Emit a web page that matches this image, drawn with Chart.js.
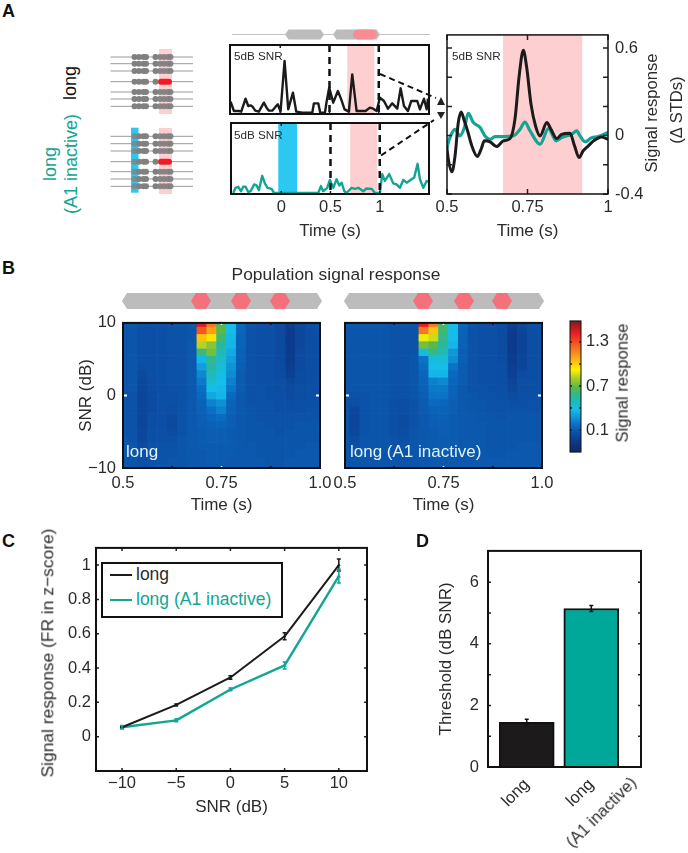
<!DOCTYPE html>
<html>
<head>
<meta charset="utf-8">
<style>
  body { margin: 0; background: #fff; width: 688px; height: 853px; overflow: hidden; position: relative; font-family: "Liberation Sans", Arial, sans-serif; color: #2b2b2b; }
  canvas { position: absolute; }
  .note { position: absolute; white-space: nowrap; line-height: 1; }
  svg { position: absolute; left: 0; top: 0; }
</style>
<script src="https://cdn.jsdelivr.net/npm/chart.js@4"></script>
</head>
<body>
<script>
// panel A, 5dB SNR single trial traces
const trialLongT = [-.504,-.470,-.420,-.396,-.352,-.325,-.301,-.281,-.254,-.217,-.166,-.139,-.115,-.081,-.047,-.024,.003,.044,.081,.129,.163,.223,.325,.342,.386,.406,.454,.470,.497,.538,.585,.619,.653,.697,.731,.775,.866,.910,.944,.978,1.012,1.053,1.093,1.137,1.188,1.222,1.256,1.296,1.330,1.391,1.418,1.459,1.486,1.499];
const trialLongV = [.33,.05,.05,.03,.42,.20,.22,.18,.06,.03,.30,.15,.06,.06,.18,.25,.03,1.55,.10,.60,.03,0,0,.28,.28,0,0,.32,.75,.30,.65,.40,.10,.03,1.15,.05,.05,.15,.12,.05,.45,.35,.12,.28,.12,.73,.20,.05,.35,.35,.10,.42,.10,.42];
const trialInactT = [-.487,-.464,-.436,-.409,-.386,-.362,-.335,-.311,-.274,-.250,-.227,-.193,-.166,-.139,-.098,-.074,.376,.403,.426,.467,.494,.528,.562,.589,.613,.640,.663,.714,.748,.782,.833,.866,.917,.951,1.002,1.025,1.052,1.096,1.137,1.171,1.205,1.239,1.273,1.323,1.350,1.384,1.408,1.442,1.476,1.499];
const trialInactV = [0,.15,.18,.05,.18,.18,.03,.05,.25,.22,.08,.50,.28,.15,.12,0,0,.20,.05,.15,.38,.15,.40,.22,.30,.05,0,.15,.12,.15,.05,.13,.12,0,0,.55,.35,.55,.28,.25,.15,.38,.30,.40,.45,.85,.40,.15,.35,.32];

// panel A, zoomed average traces
const avgLongT = [.499,.504,.515,.525,.535,.544,.554,.564,.577,.594,.606,.616,.634,.654,.675,.696,.711,.724,.737,.747,.761,.775,.789,.810,.823,.841,.856,.882,.896,.910,.923,.939,.955,.980,1];
const avgLongV = [-.070,-.161,-.248,-.139,.089,.161,.100,.032,-.070,-.143,-.093,-.036,-.043,-.075,-.036,-.020,.111,.407,.584,.475,.214,.066,-.002,.089,.043,-.020,.009,.016,-.070,-.150,-.104,-.070,-.036,-.009,-.025];
const avgInactT = [.497,.509,.525,.540,.554,.566,.582,.603,.618,.634,.649,.675,.706,.727,.742,.758,.789,.815,.839,.856,.887,.903,.913,.929,.949,.970,1];
const avgInactV = [-.104,-.014,.043,-.002,.055,.152,.089,.055,-.002,-.025,-.007,-.007,-.002,.043,.093,.032,-.059,.048,-.036,-.014,.009,.032,-.002,-.043,-.014,-.007,.021];

// panel B, heat maps: rows from 10 dB down to -10 dB, columns from 0.5 s to 1.0 s
const heatSnr = [10,9,8,7,6,5,4,3,2,1,0,-1,-2,-3,-4,-5,-6,-7,-8,-9,-10];
const heatTime = [.5,.525,.55,.575,.6,.625,.65,.675,.7,.725,.75,.775,.8,.825,.85,.875,.9,.925,.95,.975,1];
const heatLong = [
  [.08,.08,.06,.06,.06,.07,.07,.08,1.45,1.2,.65,.38,.14,.07,.06,.06,.03,-.04,.02,.05,.06],
  [.08,.08,.06,.06,.06,.07,.07,.08,1.28,1.1,.68,.38,.14,.07,.06,.06,.03,-.05,.02,.05,.06],
  [.08,.08,.06,.06,.06,.07,.07,.08,1.03,.95,.62,.37,.13,.07,.06,.06,.03,-.05,.02,.05,.06],
  [.08,.08,.06,.06,.06,.07,.07,.09,.82,.75,.55,.36,.13,.07,.06,.06,.03,-.05,.02,.05,.06],
  [.08,.08,.06,.06,.06,.07,.07,.09,.6,.72,.5,.33,.12,.07,.06,.06,.03,-.05,.03,.05,.06],
  [.08,.08,.06,.06,.06,.07,.07,.09,.36,.58,.45,.3,.12,.07,.06,.06,.03,-.04,.03,.05,.06],
  [.08,.08,.05,.06,.06,.07,.07,.09,.3,.55,.42,.27,.11,.07,.06,.06,.04,-.03,.03,.05,.06],
  [.08,.08,.03,.06,.06,.07,.07,.09,.24,.48,.4,.25,.1,.07,.06,.06,.04,-.02,.04,.05,.06],
  [.08,.08,.02,.05,.06,.07,.07,.09,.2,.45,.38,.22,.1,.07,.06,.06,.05,.02,.04,.05,.06],
  [.08,.08,.02,.05,.06,.07,.07,.09,.17,.38,.37,.19,.1,.07,.07,.06,.05,.03,.05,.06,.06],
  [.08,.07,.01,.04,.06,.06,.07,.09,.15,.32,.36,.15,.09,.07,.07,.06,.06,.04,.05,.06,.06],
  [.08,.07,.01,.04,.06,.06,.07,.09,.13,.22,.26,.13,.09,.07,.07,.07,.06,.05,.06,.06,.07],
  [.08,.07,.01,.04,.06,.05,.07,.09,.12,.17,.22,.12,.09,.08,.07,.07,.06,.06,.06,.07,.07],
  [.08,.07,.01,.05,.05,.03,.07,.09,.11,.14,.16,.11,.09,.08,.07,.07,.07,.07,.07,.07,.07],
  [.08,.07,.01,.05,.05,.03,.07,.09,.11,.12,.13,.11,.09,.08,.08,.07,.07,.07,.08,.08,.08],
  [.08,.07,.02,.06,.06,.04,.07,.09,.1,.11,.11,.1,.09,.08,.08,.08,.07,.08,.08,.08,.08],
  [.09,.07,.02,.06,.06,.06,.08,.09,.1,.11,.11,.1,.09,.08,.08,.08,.08,.08,.08,.08,.08],
  [.09,.08,.03,.07,.07,.07,.08,.09,.1,.1,.1,.1,.09,.09,.08,.08,.08,.08,.08,.09,.09],
  [.09,.08,.05,.07,.07,.07,.08,.09,.09,.1,.1,.1,.09,.09,.08,.08,.08,.08,.09,.09,.09],
  [.09,.08,.06,.07,.07,.08,.08,.09,.09,.1,.1,.09,.09,.09,.09,.08,.08,.09,.09,.09,.09],
  [.09,.08,.06,.07,.08,.08,.08,.09,.09,.09,.09,.09,.09,.09,.09,.08,.08,.09,.09,.09,.09]
];
const heatInact = [
  [.08,.08,.08,.08,.08,.07,.07,.07,1.42,1.2,.62,.38,.13,.07,.06,.06,.04,-.03,.01,.05,.06],
  [.08,.08,.08,.08,.08,.07,.07,.07,1.2,1.02,.62,.38,.13,.07,.06,.06,.04,-.04,.01,.05,.06],
  [.08,.08,.08,.08,.08,.07,.07,.07,.9,.85,.58,.38,.12,.07,.06,.06,.04,-.05,.0,.05,.06],
  [.08,.08,.08,.08,.08,.07,.07,.07,.72,.68,.55,.36,.12,.07,.06,.06,.04,-.05,.0,.05,.06],
  [.08,.08,.08,.08,.08,.07,.07,.07,.42,.58,.5,.28,.11,.07,.06,.06,.04,-.05,.0,.05,.06],
  [.08,.08,.08,.08,.08,.07,.07,.08,.18,.42,.42,.25,.11,.07,.06,.06,.04,-.04,.01,.05,.06],
  [.08,.08,.08,.08,.08,.07,.07,.08,.16,.38,.38,.18,.1,.07,.06,.06,.05,-.03,.01,.05,.06],
  [.08,.08,.08,.08,.08,.07,.07,.08,.14,.36,.36,.15,.1,.07,.06,.06,.05,-.02,.04,.05,.06],
  [.08,.08,.08,.08,.08,.07,.07,.08,.13,.22,.24,.14,.1,.07,.06,.06,.05,.0,.05,.06,.06],
  [.08,.08,.08,.08,.08,.07,.07,.08,.12,.2,.2,.13,.09,.07,.07,.06,.06,.02,.05,.06,.06],
  [.08,.07,.07,.08,.08,.07,.07,.08,.11,.18,.18,.12,.09,.08,.07,.07,.06,.04,.06,.06,.07],
  [.08,.05,.07,.08,.08,.06,.05,.07,.1,.15,.14,.11,.09,.08,.08,.07,.07,.06,.06,.07,.07],
  [.08,.02,.07,.08,.08,.06,.05,.07,.1,.12,.13,.11,.09,.08,.08,.07,.07,.07,.07,.07,.07],
  [.08,.01,.07,.08,.08,.06,.04,.07,.09,.11,.12,.1,.09,.09,.08,.08,.07,.08,.08,.08,.08],
  [.08,.01,.07,.08,.08,.06,.04,.07,.09,.11,.11,.1,.09,.09,.09,.08,.08,.08,.08,.08,.08],
  [.08,.02,.07,.08,.08,.06,.05,.08,.09,.1,.11,.1,.09,.09,.09,.08,.08,.08,.08,.08,.08],
  [.08,.04,.08,.08,.08,.07,.06,.08,.09,.1,.1,.1,.09,.09,.09,.08,.08,.08,.08,.08,.08],
  [.08,.06,.08,.08,.08,.07,.07,.08,.09,.1,.1,.1,.09,.09,.09,.08,.08,.08,.09,.09,.09],
  [.08,.07,.08,.08,.08,.08,.07,.08,.09,.09,.1,.09,.09,.09,.09,.08,.08,.09,.09,.09,.09],
  [.08,.08,.08,.08,.08,.08,.08,.08,.09,.09,.09,.09,.09,.09,.09,.09,.09,.09,.09,.09,.09],
  [.08,.08,.08,.08,.08,.08,.08,.08,.09,.09,.09,.09,.09,.09,.09,.09,.09,.09,.09,.09,.09]
];
const heatStops = [[-.2,'#14275f'],[-.05,'#0c3a8c'],[.07,'#0b52a8'],[.17,'#0a6fc4'],[.38,'#14bdea'],[.55,'#26b8a0'],[.68,'#58b84a'],[.8,'#a8cc2a'],[.92,'#fff200'],[1.13,'#f7941d'],[1.42,'#ed1c24'],[1.586,'#7a1a1a']];

// panel C
const snrLevels = [-10,-5,0,5,10];
const curveLong = [.055,.185,.345,.585,1.0];
const curveLongErr = [.005,.006,.01,.02,.035];
const curveInact = [.055,.095,.275,.415,.935];
const curveInactErr = [.01,.008,.008,.02,.04];

// panel D
const thresholdPos = [1,2];
const thresholdNames = ['long','long'];
const thresholds = [1.45,5.15];
const thresholdErr = [.1,.1];

const BLACK = '#1c1a1a', TEAL = '#12a594', PINK = '#fdcfd0', BLUE = '#2bc8f2', INK = '#2b2b2b';
const FONT = '"Liberation Sans", Arial, sans-serif';

// frame, inward ticks, shaded bands, dashed markers and error bars, all placed through the scales
Chart.register({
  id: 'deco',
  beforeDatasetsDraw(chart, args, o) {
    const {ctx, chartArea: a, scales: {x}} = chart;
    (o.bands || []).forEach(b => {
      ctx.fillStyle = b[2];
      ctx.fillRect(x.getPixelForValue(b[0]), a.top, x.getPixelForValue(b[1]) - x.getPixelForValue(b[0]), a.height);
    });
  },
  afterDatasetsDraw(chart, args, o) {
    const {ctx, chartArea: a, scales: {x, y}} = chart;
    ctx.save();
    (o.dashed || []).forEach(v => {
      ctx.strokeStyle = '#111'; ctx.lineWidth = 2.5; ctx.setLineDash([7, 5]);
      ctx.beginPath(); ctx.moveTo(x.getPixelForValue(v), a.top); ctx.lineTo(x.getPixelForValue(v), a.bottom); ctx.stroke();
    });
    ctx.setLineDash([]);
    (o.errors || []).forEach(e => {
      ctx.strokeStyle = e.color; ctx.lineWidth = 1.5;
      e.x.forEach((xv, i) => {
        const px = x.getPixelForValue(xv), hi = y.getPixelForValue(e.y[i] + e.err[i]), lo = y.getPixelForValue(e.y[i] - e.err[i]);
        ctx.beginPath();
        ctx.moveTo(px, hi); ctx.lineTo(px, lo);
        ctx.moveTo(px - 2, hi); ctx.lineTo(px + 2, hi);
        ctx.moveTo(px - 2, lo); ctx.lineTo(px + 2, lo);
        ctx.stroke();
      });
    });
    const color = o.tickColor || (() => '#222');
    const len = o.tickLen === undefined ? 3 : o.tickLen;
    ctx.lineWidth = 1.5;
    if (!o.noXTicks) x.ticks.forEach(t => {
      const p = x.getPixelForValue(t.value);
      ctx.strokeStyle = color('x', t.value);
      ctx.beginPath();
      ctx.moveTo(p, a.top); ctx.lineTo(p, a.top + len);
      ctx.moveTo(p, a.bottom); ctx.lineTo(p, a.bottom - len);
      ctx.stroke();
    });
    y.ticks.forEach(t => {
      const p = y.getPixelForValue(t.value);
      ctx.strokeStyle = color('y', t.value);
      ctx.lineWidth = o.yTickWidth || 1.5;
      ctx.beginPath();
      ctx.moveTo(a.left, p); ctx.lineTo(a.left + (o.yTickLen || len), p);
      ctx.moveTo(a.right, p); ctx.lineTo(a.right - (o.yTickLen || len), p);
      ctx.stroke();
    });
    if (!o.noFrame) {
      ctx.strokeStyle = '#111'; ctx.lineWidth = o.frame || 2;
      ctx.strokeRect(a.left, a.top, a.width, a.height);
    }
    ctx.restore();
  }
});

function axis(min, max, vals, labels, size, pad, title, extra) {
  return Object.assign({
    type: 'linear', min, max, offset: false,
    grid: {display: false, drawTicks: false},
    border: {display: false},
    ticks: {
      autoSkip: false, maxRotation: 0, padding: pad, color: INK,
      font: {family: FONT, size: 16.5},
      callback: (v, i) => labels[i]
    },
    title: title ? {display: true, text: title, color: INK, padding: 0, font: {family: FONT, size: 17}} : {display: false},
    afterBuildTicks: s => { s.ticks = vals.map(v => ({value: v})); },
    afterFit: s => { if (s.isHorizontal()) s.height = size; else s.width = size; }
  }, extra || {});
}

// box = frame left, top, width, height; m = margins left, top, right, bottom around it
function panel(box, m, config) {
  const c = document.createElement('canvas');
  c.width = box[2] + m[0] + m[2];
  c.height = box[3] + m[1] + m[3];
  c.style.left = (box[0] - m[0]) + 'px';
  c.style.top = (box[1] - m[1]) + 'px';
  document.body.appendChild(c);
  const yRight = config.options.scales.y.position === 'right';
  config.options.responsive = false;
  config.options.animation = false;
  config.options.maintainAspectRatio = false;
  config.options.layout = {padding: {left: yRight ? m[0] : 0, top: m[1], right: yRight ? 0 : m[2], bottom: 0}};
  config.options.plugins = Object.assign({legend: {display: false}, tooltip: {enabled: false}}, config.options.plugins);
  return new Chart(c, config);
}

function zipXY(xs, ys) { return xs.map((x, i) => ({x, y: ys[i]})); }

function trace(xs, ys, color, width, extra) {
  return Object.assign({data: zipXY(xs, ys), borderColor: color, borderWidth: width, showLine: true, pointRadius: 0, borderJoinStyle: 'round'}, extra || {});
}

// panel A small traces
const smallTicks = [0, .5, 1], smallLabels = ['0', '0.5', '1'];
panel([230, 45, 199, 69], [20, 14, 20, 20], {
  type: 'scatter',
  data: {datasets: [trace(trialLongT, trialLongV, BLACK, 2.4)]},
  options: {
    scales: {
      x: axis(-.51, 1.51, smallTicks, ['', '', ''], 20, 5),
      y: axis(-.04, 2.03, [], [], 20, 0)
    },
    plugins: {deco: {bands: [[.68, .955, PINK]], dashed: [.5, 1]}}
  }
});
panel([231, 123, 198, 69], [20, 14, 20, 50], {
  type: 'scatter',
  data: {datasets: [trace(trialInactT, trialInactV, TEAL, 2.4)]},
  options: {
    scales: {
      x: axis(-.51, 1.5, smallTicks, smallLabels, 48, 4, 'Time (s)'),
      y: axis(-.03, 2.04, [], [], 20, 0)
    },
    plugins: {deco: {bands: [[.70, .975, PINK], [-.03, .16, BLUE]], dashed: [.5, 1]}}
  }
});

// panel A zoomed average
panel([447, 32, 161, 160], [20, 14, 50, 50], {
  type: 'scatter',
  data: {datasets: [
    trace(avgLongT, avgLongV, BLACK, 3, {cubicInterpolationMode: 'monotone'}),
    trace(avgInactT, avgInactV, TEAL, 3.2, {cubicInterpolationMode: 'monotone'})
  ]},
  options: {
    scales: {
      x: axis(.5, 1, [.5, .75, 1], ['0.5', '0.75', '1'], 48, 4, 'Time (s)'),
      y: axis(-.4, .69, [.6, .4, .2, 0, -.2, -.4], ['0.6', '', '', '0', '', '-0.4'], 50, 7, null, {position: 'right'})
    },
    plugins: {deco: {bands: [[.674, .92, PINK]], frame: 1.5, tickLen: 5}}
  }
});

// panel B
function heatColor(v) {
  for (let i = 1; i < heatStops.length; i++) {
    if (v <= heatStops[i][0]) {
      const [a, ca] = heatStops[i - 1], [b, cb] = heatStops[i];
      const f = Math.max(0, (v - a) / (b - a));
      const ch = (c, k) => parseInt(c.substr(1 + k * 2, 2), 16);
      return 'rgb(' + [0, 1, 2].map(k => Math.round(ch(ca, k) + (ch(cb, k) - ch(ca, k)) * f)).join(',') + ')';
    }
  }
  return heatStops[heatStops.length - 1][1];
}

function heatPanel(box, m, grid, yLabels, yTitle) {
  const datasets = heatSnr.map((snr, r) => ({
    data: heatTime.map(t => ({x: t, y: [snr - .5, snr + .5]})),
    backgroundColor: grid[r].map(heatColor),
    borderWidth: 0,
    barPercentage: 1,
    categoryPercentage: 1
  }));
  panel(box, m, {
    type: 'bar',
    data: {datasets},
    options: {
      scales: {
        x: axis(.5, 1, [.5, .625, .75, .875, 1], ['0.5', '', '0.75', '', '1.0'], 48, 6, 'Time (s)', {stacked: true}),
        y: axis(-10, 10, [10, 0, -10], yLabels, m[0], 7, yTitle, {stacked: false})
      },
      plugins: {deco: {
        tickLen: 2,
        yTickLen: 4,
        yTickWidth: 2,
        tickColor: (ax, v) => (ax === 'y' && v === 0) || (ax === 'x' && v === .75) ? '#fff' : '#111'
      }}
    }
  });
}
heatPanel([123, 320, 197, 146], [47, 14, 20, 50], heatLong, ['10', '0', '−10'], 'SNR (dB)');
heatPanel([345, 320, 197, 146], [20, 14, 20, 50], heatInact, ['', '', ''], null);

// colour bar
panel([570, 320, 11, 133], [6, 14, 36, 14], {
  type: 'bar',
  data: {labels: [''], datasets: [{
    data: [[-.2, 1.586]],
    barPercentage: 1,
    categoryPercentage: 1,
    borderWidth: 0,
    backgroundColor: ctx => {
      const {chart} = ctx;
      if (!chart.chartArea) return '#000';
      const yS = chart.scales.y;
      const g = chart.ctx.createLinearGradient(0, yS.getPixelForValue(-.2), 0, yS.getPixelForValue(1.586));
      heatStops.forEach(s => g.addColorStop((s[0] + .2) / 1.786, s[1]));
      return g;
    }
  }]},
  options: {
    scales: {
      x: {type: 'category', display: false, offset: true, grid: {display: false}},
      y: axis(-.2, 1.586, [.1, .4, .7, 1, 1.3], ['0.1', '', '0.7', '', '1.3'], 36, 5, null, {position: 'right'})
    },
    plugins: {deco: {noXTicks: true, frame: 1, tickLen: 2}}
  }
});

// panel C
panel([97, 547, 270, 221], [60, 14, 20, 50], {
  type: 'scatter',
  data: {datasets: [
    trace(snrLevels, curveLong, BLACK, 2, {pointRadius: 2, pointStyle: 'triangle', pointBackgroundColor: BLACK, pointBorderWidth: 0}),
    trace(snrLevels, curveInact, TEAL, 2.4, {pointRadius: 2.5, pointStyle: 'triangle', pointBackgroundColor: TEAL, pointBorderWidth: 0})
  ]},
  options: {
    scales: {
      x: axis(-12.4, 12.6, snrLevels, ['−10', '−5', '0', '5', '10'], 47, 3, 'SNR (dB)'),
      y: axis(-.2, 1.1, [0, .2, .4, .6, .8, 1], ['0', '0.2', '0.4', '0.6', '0.8', '1'], 59, 5)
    },
    plugins: {deco: {tickLen: 3, errors: [
      {x: snrLevels, y: curveLong, err: curveLongErr, color: BLACK},
      {x: snrLevels, y: curveInact, err: curveInactErr, color: TEAL}
    ]}}
  }
});

// panel D
panel([488, 546, 153, 221], [52, 14, 30, 85], {
  type: 'bar',
  data: {datasets: [{
    data: zipXY(thresholdPos, thresholds),
    backgroundColor: [BLACK, '#00a899'],
    borderColor: '#111',
    borderWidth: 2,
    barThickness: 55
  }]},
  options: {
    scales: {
      x: axis(.4, 2.77, thresholdPos, thresholdNames, 85, 8, null, {
        ticks: {autoSkip: false, minRotation: 45, maxRotation: 45, padding: 8, color: INK, font: {family: FONT, size: 16.5}, callback: (v, i) => thresholdNames[i]}
      }),
      y: axis(0, 7.02, [0, 1, 2, 3, 4, 5, 6], ['0', '', '2', '', '4', '', '6'], 52, 9, 'Threshold (dB SNR)')
    },
    plugins: {deco: {noXTicks: true, tickLen: 3, errors: [
      {x: thresholdPos, y: thresholds, err: thresholdErr, color: '#111'}
    ]}}
  }
});

// text that sits beside the axes
function note(text, x, y, opts) {
  const o = opts || {};
  const d = document.createElement('div');
  d.className = 'note';
  d.textContent = text;
  d.style.left = x + 'px';
  d.style.top = y + 'px';
  d.style.fontSize = (o.size || 17) + 'px';
  if (o.color) d.style.color = o.color;
  if (o.bold) { d.style.fontWeight = 'bold'; d.style.color = '#111'; }
  const angle = o.rot === true || o.rot === 1 ? -90 : o.rot;
  d.style.transform = o.rot ? `translate(-50%,-50%) rotate(${angle}deg)` : o.left ? 'translate(0,-50%)' : 'translate(-50%,-50%)';
  document.body.appendChild(d);
}
note('A', 2, 11, {left: 1, bold: 1, size: 18});
note('B', 2, 268, {left: 1, bold: 1, size: 18});
note('C', 2, 541, {left: 1, bold: 1, size: 18});
note('D', 416, 541, {left: 1, bold: 1, size: 18});
note('long', 70, 83, {rot: 1, size: 18, color: '#111'});
note('long', 50, 164, {rot: 1, size: 18, color: TEAL});
note('(A1 inactive)', 71, 164, {rot: 1, size: 18, color: TEAL});
note('5dB SNR', 234, 56, {left: 1, size: 11.7});
note('5dB SNR', 234, 134.5, {left: 1, size: 11.7});
note('5dB SNR', 452, 56, {left: 1, size: 11.7});
note('Signal response', 652, 113, {rot: 1, size: 16.6});
note('(Δ STDs)', 677, 110, {rot: 1, size: 16.6});
note('Population signal response', 336, 275, {size: 17.4});
note('long', 126, 451, {left: 1, color: '#dff3fb'});
note('long (A1 inactive)', 350, 451, {left: 1, color: '#dff3fb'});
note('Signal response', 623, 383, {rot: 1, size: 16.6});
note('Signal response (FR in z−score)', 48, 653, {rot: 1, size: 17.4});
note('(A1 inactive)', 600.5, 812, {rot: -45, size: 16.5});

// legend of panel C
const box = document.createElement('div');
box.style.cssText = 'position:absolute;left:101px;top:562px;width:178px;height:52px;border:2px solid #111;background:#fff';
document.body.appendChild(box);
[['long', BLACK, 575], ['long (A1 inactive)', TEAL, 600]].forEach(([name, color, y]) => {
  const s = document.createElement('div');
  s.style.cssText = `position:absolute;left:110px;top:${y - 1}px;width:22px;height:2px;background:${color}`;
  document.body.appendChild(s);
  note(name, 136, y, {left: 1, size: 17.5, color: name === 'long' ? INK : TEAL});
});

// stimulus schematics, these are drawings and not data
const ns = 'http://www.w3.org/2000/svg';
const over = document.createElementNS(ns, 'svg');
over.setAttribute('width', 688);
over.setAttribute('height', 853);
document.body.appendChild(over);
function draw(tag, attrs, parent) {
  const e = document.createElementNS(ns, tag);
  Object.keys(attrs).forEach(k => e.setAttribute(k, attrs[k]));
  (parent || over).appendChild(e);
  return e;
}
function rows(ys, top, bottom, blue) {
  if (blue) draw('rect', {x: 131, y: 127.7, width: 7.5, height: 65, fill: BLUE});
  draw('rect', {x: 159, y: top, width: 13, height: bottom - top, fill: PINK});
  ys.forEach((y, r) => {
    draw('line', {x1: 110.5, x2: 193, y1: y, y2: y, stroke: '#999', 'stroke-width': 1});
    [134.5, 139, 143.5, 146].forEach(x => draw('circle', {cx: x, cy: y, r: 3, fill: '#808080', opacity: blue && x < 139 ? .75 : 1}));
    [155.5, 160, 164, 168, 170.5].forEach(x => {
      if (r === 3 && x > 156) return;
      draw('circle', {cx: x, cy: y, r: 3, fill: '#808080', opacity: x > 156 ? .92 : 1});
    });
    if (r === 3) draw('rect', {x: 158, y: y - 3, width: 14, height: 6, rx: 3, fill: '#ee1c25'});
  });
}
rows([57, 63.7, 71, 81.7, 92, 99, 106.3], 49, 114, false);
rows([136.3, 143.7, 151, 161.7, 171.7, 179, 186.3], 128, 194, true);

function hexBar(x0, x1, yc, h, tip, fill) {
  draw('polygon', {points: [[x0, yc], [x0 + tip, yc - h / 2], [x1 - tip, yc - h / 2], [x1, yc], [x1 - tip, yc + h / 2], [x0 + tip, yc + h / 2]].join(' '), fill});
}
draw('line', {x1: 232, x2: 430, y1: 34.5, y2: 34.5, stroke: '#c4c4c4', 'stroke-width': 1.2});
hexBar(285, 324, 34.5, 10, 3.5, '#bcbcbc');
hexBar(333, 380, 34.5, 10, 3.5, '#bcbcbc');
draw('rect', {x: 353, y: 29.5, width: 24, height: 10, rx: 5, fill: '#f98c92'});
[[122, 322, [201, 241, 280]], [344, 544, [423, 464, 502]]].forEach(([a, b, hexes]) => {
  hexBar(a, b, 301, 16, 5, '#bcbcbc');
  hexes.forEach(c => hexBar(c - 10, c + 10, 301, 16, 5, '#f4707a'));
});

// dashed zoom guides with their arrow heads
draw('line', {x1: 380, y1: 74, x2: 436, y2: 98, stroke: '#111', 'stroke-width': 2, 'stroke-dasharray': '6 4'});
draw('line', {x1: 381, y1: 155.5, x2: 434, y2: 120, stroke: '#111', 'stroke-width': 2, 'stroke-dasharray': '6 4'});
draw('polygon', {points: '441,97 437,105 445,105', fill: '#222'});
draw('polygon', {points: '441,119 437,112 445,112', fill: '#222'});
</script>
</body>
</html>
